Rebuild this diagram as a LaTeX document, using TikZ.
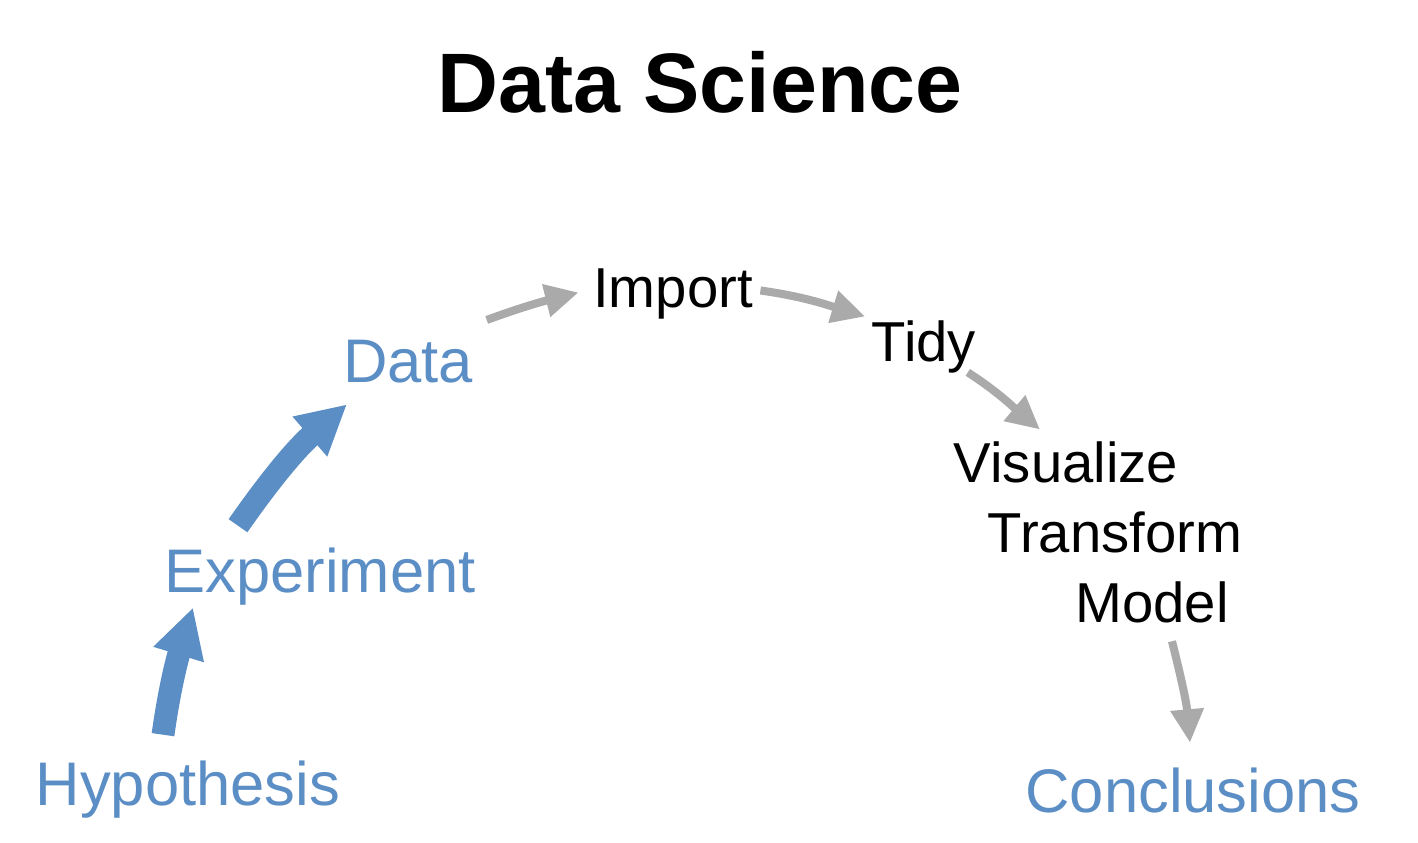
\documentclass[tikz,border=0pt]{standalone}
\usepackage{fontspec}
\setmainfont{Liberation Sans}
\definecolor{dsblue}{RGB}{92,142,198}
\definecolor{dsgray}{RGB}{170,170,170}
\usetikzlibrary{calc}
\usetikzlibrary{positioning}
\usetikzlibrary{arrows.meta}
\tikzset{
  bluearrow/.style={draw=dsblue, line width=6.5pt, -{Triangle[length=14pt, width=14pt]}},
  grayarrow/.style={draw=dsgray, line width=2.3pt, -{Triangle[length=9.5pt, width=9pt]}}
}

\begin{document}
\begin{tikzpicture}[x=0.01cm, y=0.01cm, inner sep=0pt]
  \useasboundingbox (0,0) rectangle (1418,842);
  \node [anchor=base, font=\bfseries\fontsize{24}{29}\selectfont] (title) at (700,729) {Data Science};

  \begin{scope}[every node/.style={anchor=base, text=dsblue, font=\fontsize{17.5}{21}\selectfont}]
    \node (hyp) at (188,37) {Hypothesis};
    \node (exp) at (320,250) {Experiment};
    \node (data) at (408,459) {Data};
    \node (concl) at (1193,30) {Conclusions};
  \end{scope}

  \begin{scope}[every node/.style={anchor=base, font=\fontsize{16}{19}\selectfont}]
    \node (import) at (673,534) {Import};
    \node (tidy) at (924,480) {Tidy};
    \node (vis) at (1066,359) {Visualize};
    \node (trans) at (1115,289) {Transform};
    \node (model) at (1152,219) {Model};
  \end{scope}

  \draw [bluearrow] ($(hyp.north)+(-25,25)$) to[out=82, in=253] ($(exp.south)+(-127,-2)$);
  \draw [bluearrow] ($(exp.north)+(-82,21)$) to[out=55, in=221] ($(data.south)+(-61,-20)$);

  \draw [grayarrow] ($(data.north east)+(13,20)$) to[out=20, in=194] ($(import.west)+(-14,2)$);
  \draw [grayarrow] ($(import.east)+(7,4)$) to[out=-8, in=163] ($(tidy.north west)+(-6,4)$);
  \draw [grayarrow] ($(tidy.south east)+(-9,2)$) to[out=-33, in=140] ($(vis.north)+(-26,12)$);
  \draw [grayarrow] ($(model.south)+(20,-17)$) to[out=-76, in=95] ($(concl.north)+(-3,24)$);
\end{tikzpicture}
\end{document}
